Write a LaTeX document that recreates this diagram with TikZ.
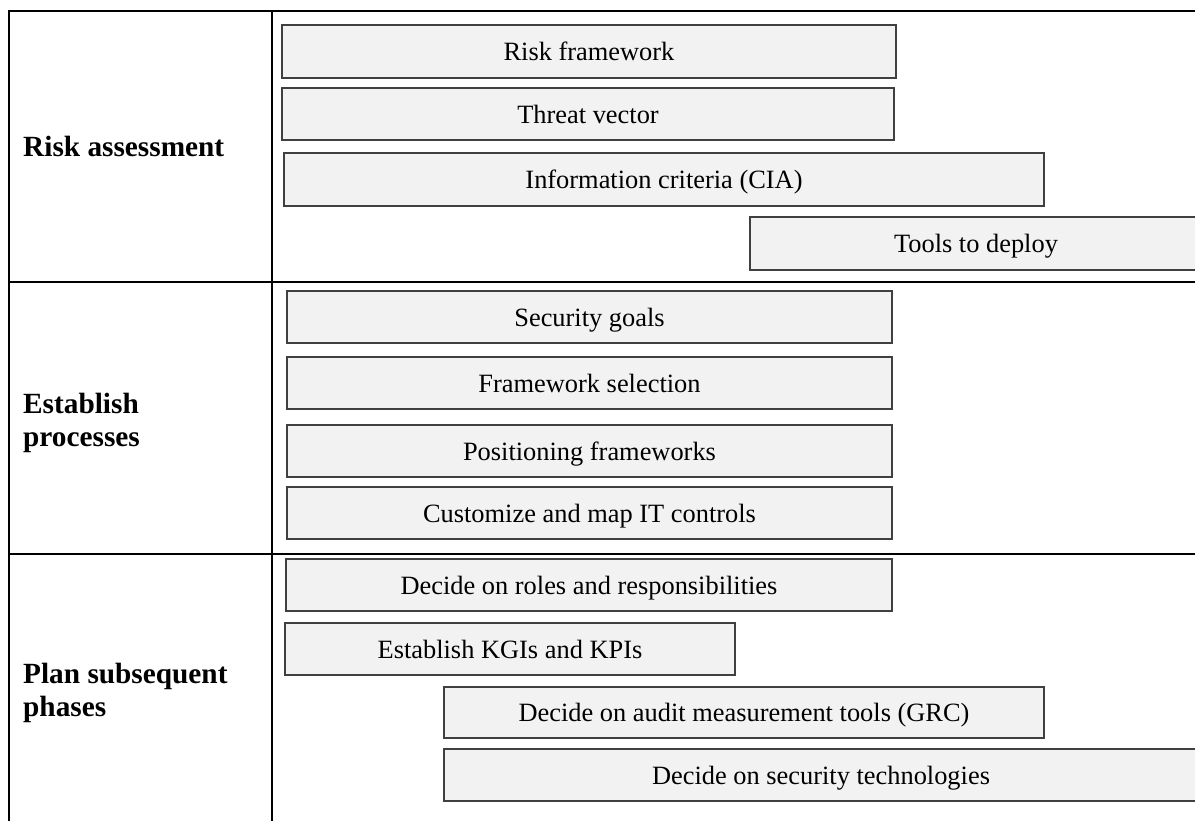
\documentclass[tikz,border=0pt]{standalone}
\usepackage{fontspec}
\setmainfont{Liberation Serif}
\definecolor{boxfill}{HTML}{F2F2F2}
\definecolor{boxline}{HTML}{404040}
\tikzset{
  stepbox/.style={draw=boxline, fill=boxfill, line width=1.1pt, rectangle, inner sep=0pt,
    text height=24pt, text depth=6pt,
    minimum height=52pt, font=\fontsize{26.4}{30}\selectfont},
  rowlabel/.style={anchor=west, inner sep=0pt, align=left,
    font=\fontsize{29.3}{33}\selectfont\bfseries},
  gridline/.style={line width=1.7pt, black}
}
\begin{document}
\begin{tikzpicture}[x=1pt, y=-1pt]
\useasboundingbox (0,0) rectangle (1195,820);
\begin{scope}
\clip (0,0) rectangle (1195,820);
% table grid
\coordinate (tl) at (9,11);
\coordinate (tr) at (1196,11);
\coordinate (bl) at (9,821);
\coordinate (ct) at (272,11);
\coordinate (cb) at (272,821);
\coordinate (r1l) at (9,282);
\coordinate (r1r) at (1196,282);
\coordinate (r2l) at (9,554);
\coordinate (r2r) at (1196,554);
\draw[gridline] (tr) -- (tl) -- (bl);
\draw[gridline] (ct) -- (cb);
\draw[gridline] (r1l) -- (r1r);
\draw[gridline] (r2l) -- (r2r);
% row labels
\node[rowlabel, anchor=base west] (ra) at (23,156) {Risk assessment};
\node[rowlabel] (ep) at (23,423) {Establish\\processes};
\node[rowlabel] (ps) at (23,693) {Plan subsequent\\phases};
% risk assessment boxes
\node[stepbox, minimum width=614pt, minimum height=53pt] (b1) at (589,51.5) {Risk framework};
\node[stepbox, minimum width=612pt] (b2) at (588,114) {Threat vector};
\node[stepbox, minimum width=760pt, minimum height=53pt] (b3) at (664,179.5) {Information criteria (CIA)};
\node[stepbox, minimum width=452pt, minimum height=53pt] (b4) at (976,243.5) {Tools to deploy};
% establish processes boxes
\node[stepbox, minimum width=605pt] (b5) at (589.5,317) {Security goals};
\node[stepbox, minimum width=605pt] (b6) at (589.5,383) {Framework selection};
\node[stepbox, minimum width=605pt] (b7) at (589.5,451) {Positioning frameworks};
\node[stepbox, minimum width=605pt] (b8) at (589.5,513) {Customize and map IT controls};
% plan subsequent phases boxes
\node[stepbox, minimum width=606pt] (b9) at (589,585) {Decide on roles and responsibilities};
\node[stepbox, minimum width=450pt] (b10) at (510,649) {Establish KGIs and KPIs};
\node[stepbox, minimum width=600pt, minimum height=51pt] (b11) at (744,712.5) {Decide on audit measurement tools (GRC)};
\node[stepbox, minimum width=754pt] (b12) at (821,775) {Decide on security technologies};
\end{scope}
\end{tikzpicture}
\end{document}
